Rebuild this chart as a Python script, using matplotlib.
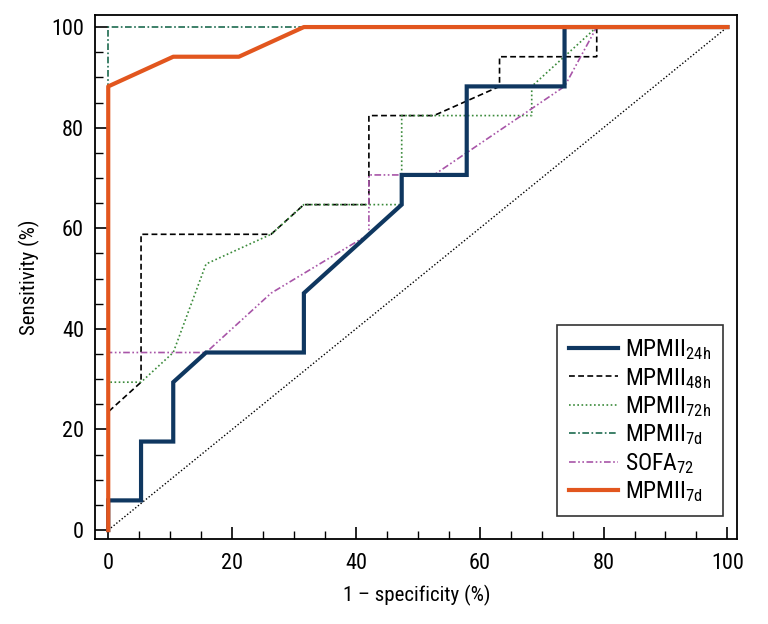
import matplotlib
matplotlib.use('Agg')
import matplotlib.pyplot as plt
from matplotlib.ticker import MultipleLocator
import logging
logging.getLogger('matplotlib.font_manager').setLevel(logging.ERROR)

plt.rcParams['font.family'] = ['Roboto Condensed', 'Liberation Sans Narrow', 'Roboto', 'DejaVu Sans']
plt.rcParams['mathtext.fontset'] = 'custom'
plt.rcParams['mathtext.rm'] = 'Roboto Condensed'
plt.rcParams['mathtext.default'] = 'rm'

# ROC curves: x = 1 - specificity (%), y = sensitivity (%)
x_24h = [0, 0, 5.3, 5.3, 10.5, 10.5, 15.8, 31.6, 31.6, 47.4, 47.4, 57.9, 57.9, 73.7, 73.7, 100]
y_24h = [0, 5.9, 5.9, 17.6, 17.6, 29.4, 35.3, 35.3, 47.1, 64.7, 70.6, 70.6, 88.2, 88.2, 100, 100]

x_48h = [0, 0, 5.3, 5.3, 26.3, 31.6, 42.1, 42.1, 52.6, 63.2, 63.2, 78.9, 78.9, 100]
y_48h = [0, 23.5, 29.4, 58.8, 58.8, 64.7, 64.7, 82.4, 82.4, 88.2, 94.1, 94.1, 100, 100]

x_72h = [0, 0, 5.3, 10.5, 15.8, 26.3, 31.6, 47.4, 47.4, 68.4, 68.4, 78.9, 100]
y_72h = [0, 29.4, 29.4, 35.3, 52.9, 58.8, 64.7, 64.7, 82.4, 82.4, 88.2, 100, 100]

x_7d_dd = [0, 0, 0, 100]
y_7d_dd = [0, 88.2, 100, 100]

x_sofa = [0, 0, 15.8, 26.3, 42.1, 42.1, 52.6, 73.7, 78.9, 100]
y_sofa = [0, 35.3, 35.3, 47.1, 58.8, 70.6, 70.6, 88.2, 100, 100]

x_7d = [0, 0, 10.5, 21.1, 31.6, 100]
y_7d = [0, 88.2, 94.1, 94.1, 100, 100]

ref_x = [0, 100]
ref_y = [0, 100]

fig = plt.figure(figsize=(7.68, 6.24), dpi=100)
ax = fig.add_axes([0.124, 0.136, 0.836, 0.84])

ax.plot(ref_x, ref_y, color='black', linestyle=(0, (1, 1.5)), linewidth=1.0)
ax.plot(x_48h, y_48h, color='black', linestyle=(0, (3.5, 2)), linewidth=1.2, label=r'MPMII$_{48h}$')
ax.plot(x_72h, y_72h, color='#3a8a3a', linestyle=(0, (1, 1.5)), linewidth=1.2, label=r'MPMII$_{72h}$')
ax.plot(x_7d_dd, y_7d_dd, color='#1d6b4f', linestyle=(0, (4, 1.5, 1, 1.5)), linewidth=1.2, label=r'MPMII$_{7d}$')
ax.plot(x_sofa, y_sofa, color='#a855a8', linestyle=(0, (4, 1.5, 1, 1.5, 1, 1.5)), linewidth=1.2, label=r'SOFA$_{72}$')
ax.plot(x_24h, y_24h, color='#0f3760', linewidth=3.0, label=r'MPMII$_{24h}$', solid_joinstyle='miter')
ax.plot(x_7d, y_7d, color='#e2561e', linewidth=3.0, label=r'MPMII$_{7d}$')

ax.set_xlim(-2.1, 101.6)
ax.set_ylim(-1.8, 102.4)

ax.xaxis.set_major_locator(MultipleLocator(20))
ax.xaxis.set_minor_locator(MultipleLocator(5))
ax.yaxis.set_major_locator(MultipleLocator(20))
ax.yaxis.set_minor_locator(MultipleLocator(5))
ax.tick_params(which='major', direction='in', length=9, width=1.2, labelsize=16)
ax.tick_params(which='minor', direction='in', length=6, width=1.0)
ax.tick_params(axis='x', pad=10)
ax.tick_params(axis='y', pad=8)
for s in ax.spines.values():
    s.set_linewidth(1.3)

ax.set_xlabel('1 – specificity (%)', fontsize=15, labelpad=8)
ax.set_ylabel('Sensitivity (%)', fontsize=15, labelpad=8)

handles, labels = ax.get_legend_handles_labels()
order = [4, 0, 1, 2, 3, 5]
leg = ax.legend([handles[i] for i in order], [labels[i] for i in order],
                loc='lower right', bbox_to_anchor=(0.978, 0.044), fontsize=17,
                frameon=True, fancybox=False, edgecolor='black', handlelength=2.1,
                labelspacing=0.15, borderpad=0.5, handletextpad=0.3, borderaxespad=0)
leg.get_frame().set_linewidth(1.2)

fig.savefig('out.png', dpi=100)
